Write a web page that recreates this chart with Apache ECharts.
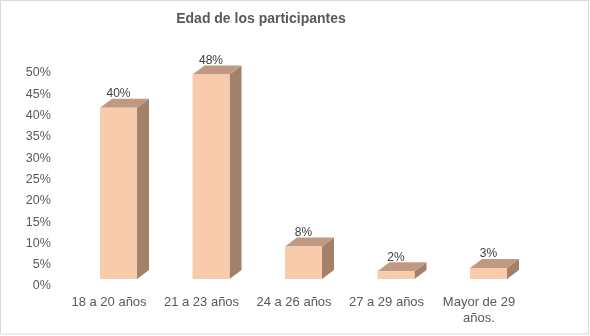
<!DOCTYPE html>
<html>
<head>
<meta charset="utf-8">
<script src="https://cdn.jsdelivr.net/npm/echarts@6/dist/echarts.min.js"></script>
<style>
  html, body { margin: 0; padding: 0; background: #fff; }
  #chart { width: 590px; height: 336px; }
</style>
</head>
<body>
<div id="chart"></div>
<script>
const categories = ['18 a 20 años', '21 a 23 años', '24 a 26 años', '27 a 29 años', 'Mayor de 29\naños.'];
const values = [40.2, 48.0, 7.6, 1.8, 2.6];
const yTicks = [0, 5, 10, 15, 20, 25, 30, 35, 40, 45, 50];

const FRONT = '#F8CBAD';
const TOP = '#C19882';
const SIDE = '#A2806A';
const DEPTH_X = 12;
const DEPTH_Y = 9;

const chart = echarts.init(document.getElementById('chart'), null, { renderer: 'canvas' });

function renderBar(params, api) {
  const idx = api.value(0);
  const val = api.value(1);
  const top = api.coord([idx, val]);
  const base = api.coord([idx, 0]);
  const band = api.size([1, 0])[0];
  const w = band * 0.4;
  const cx = top[0] + band * 0.103;
  const x0 = cx - w / 2;
  const x1 = cx + w / 2;
  const yT = top[1];
  const yB = base[1];
  return {
    type: 'group',
    children: [
      {
        type: 'polygon',
        shape: { points: [[x1, yT], [x1 + DEPTH_X, yT - DEPTH_Y], [x1 + DEPTH_X, yB - DEPTH_Y], [x1, yB]] },
        style: { fill: SIDE }
      },
      {
        type: 'polygon',
        shape: { points: [[x0, yT], [x0 + DEPTH_X, yT - DEPTH_Y], [x1 + DEPTH_X, yT - DEPTH_Y], [x1, yT]] },
        style: { fill: TOP }
      },
      {
        type: 'rect',
        shape: { x: x0, y: yT, width: w, height: yB - yT },
        style: { fill: FRONT }
      },
      {
        type: 'text',
        style: {
          x: cx, y: yT - DEPTH_Y + 1,
          text: Math.round(val) + '%',
          align: 'center', verticalAlign: 'bottom',
          fill: '#404040', font: '12px "Liberation Sans", Arial, sans-serif'
        }
      }
    ]
  };
}

chart.setOption({
  backgroundColor: '#fff',
  animation: false,
  textStyle: { fontFamily: '"Liberation Sans", Arial, sans-serif' },
  graphic: [
    {
      type: 'rect',
      shape: { x: 0.5, y: 0.5, width: 588, height: 333.5 },
      style: { fill: 'none', stroke: '#d9d9d9', lineWidth: 1 },
      silent: true
    },
    {
      type: 'text',
      x: 261, y: 19,
      style: {
        text: 'Edad de los participantes',
        align: 'center', verticalAlign: 'middle',
        fill: '#595959', font: 'bold 14px "Liberation Sans", Arial, sans-serif'
      }
    }
  ],
  grid: [
    { left: 62.75, right: 64.75, top: 66, bottom: 57 },
    { left: 62.75, right: 64.75, top: 73, bottom: 50 }
  ],
  xAxis: [
    {
      type: 'category',
      gridIndex: 0,
      data: categories,
      axisLine: { show: false },
      axisTick: { show: false },
      axisLabel: { color: '#595959', fontSize: 13, margin: 15, lineHeight: 16, interval: 0 }
    },
    { type: 'category', gridIndex: 1, data: categories, show: false }
  ],
  yAxis: [
    { type: 'value', gridIndex: 0, min: 0, max: 50, show: false },
    {
      type: 'value',
      gridIndex: 1,
      min: yTicks[0],
      max: yTicks[yTicks.length - 1],
      interval: 5,
      axisLine: { show: false },
      axisTick: { show: false },
      splitLine: { show: false },
      axisLabel: { color: '#595959', fontSize: 12.5, margin: 12, formatter: '{value}%' }
    }
  ],
  series: [{
    type: 'custom',
    xAxisIndex: 0,
    yAxisIndex: 0,
    renderItem: renderBar,
    data: values.map((v, i) => [i, v])
  }]
});
</script>
</body>
</html>
